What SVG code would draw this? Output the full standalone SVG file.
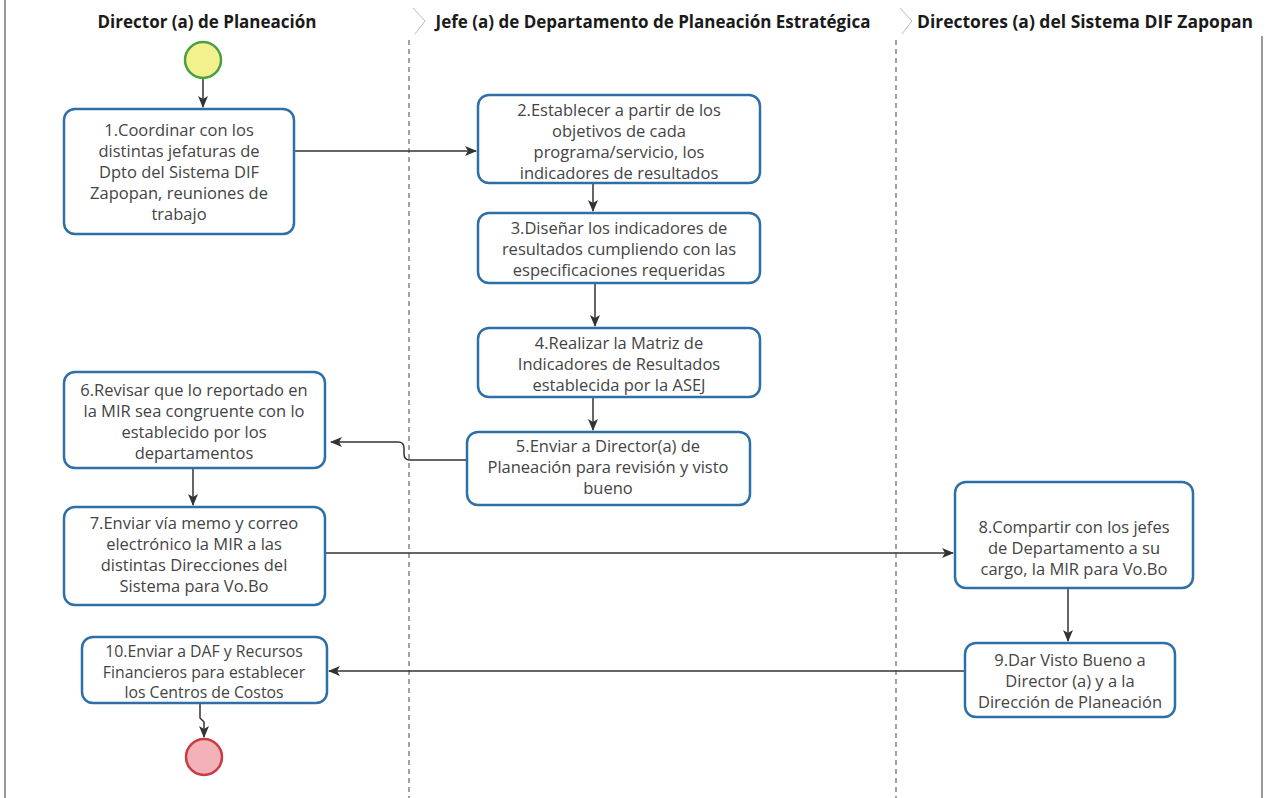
<svg xmlns="http://www.w3.org/2000/svg" width="1266" height="798" viewBox="0 0 1266 798">
<defs>
<style>
.lane{stroke:#555;stroke-width:1.2;fill:none}
.sep{stroke:#666;stroke-width:1.2;stroke-dasharray:5 4;fill:none}
.hdr{font-family:"Open Sans","DejaVu Sans",sans-serif;font-weight:bold;font-size:17px;fill:#1a1a1a}
.box{fill:#fff;stroke:#2f6fa8;stroke-width:2.5}
.t{font-family:"Open Sans","DejaVu Sans",sans-serif;font-size:16.5px;fill:#444;text-anchor:middle}
.ts{font-size:15.8px}
.c{stroke:#333;stroke-width:1.5;fill:none}
.chev{stroke:#bbb;stroke-width:1;fill:none}
</style>
<marker id="ah" viewBox="0 0 12 12" refX="11" refY="6" markerWidth="12" markerHeight="12" markerUnits="userSpaceOnUse" orient="auto">
<path d="M0,1 L12,6 L0,11 L3,6 Z" fill="#333"/>
</marker>
</defs>
<rect width="1266" height="798" fill="#fff"/>
<g id="lanes">
<line class="lane" x1="5" y1="0" x2="5" y2="798"/>
<line class="lane" x1="1262" y1="36" x2="1262" y2="798"/>
<line class="sep" x1="409" y1="40" x2="409" y2="798"/>
<line class="sep" x1="896" y1="40" x2="896" y2="798"/>
<polyline class="chev" points="413,8 425,21 415,34"/>
<polyline class="chev" points="900,8 912,21 902,34"/>
<text class="hdr" x="207" y="28" text-anchor="middle">Director (a) de Planeación</text>
<text class="hdr" x="653" y="28" text-anchor="middle">Jefe (a) de Departamento de Planeación Estratégica</text>
<text class="hdr" x="917" y="28" textLength="336" lengthAdjust="spacingAndGlyphs">Directores (a) del Sistema DIF Zapopan</text>
</g>
<g id="connectors">
<line class="c" x1="203" y1="78" x2="203" y2="107" marker-end="url(#ah)"/>
<line class="c" x1="294" y1="151" x2="476" y2="151" marker-end="url(#ah)"/>
<line class="c" x1="593" y1="183" x2="593" y2="211" marker-end="url(#ah)"/>
<line class="c" x1="595" y1="283" x2="595" y2="326" marker-end="url(#ah)"/>
<line class="c" x1="593" y1="397" x2="593" y2="430" marker-end="url(#ah)"/>
<path class="c" d="M467,460 L410,460 Q404,460 404,454 L404,448 Q404,442 398,442 L331,442" marker-end="url(#ah)"/>
<line class="c" x1="193" y1="468" x2="193" y2="505" marker-end="url(#ah)"/>
<line class="c" x1="325" y1="553" x2="953" y2="553" marker-end="url(#ah)"/>
<line class="c" x1="1068" y1="588" x2="1068" y2="641" marker-end="url(#ah)"/>
<line class="c" x1="965" y1="671" x2="329" y2="671" marker-end="url(#ah)"/>
<path class="c" d="M200,703 L200,718 L204,722 L204,737" marker-end="url(#ah)"/>
</g>
<g id="start"><circle cx="203" cy="60" r="18" fill="#f3f08e" stroke="#4aa040" stroke-width="2.5"/></g>
<g id="n1"><rect class="box" x="64" y="109" width="230" height="125" rx="11"/>
<text class="t"><tspan x="179" y="136">1.Coordinar con los</tspan><tspan x="179" y="157">distintas jefaturas de</tspan><tspan x="179" y="178">Dpto del Sistema DIF</tspan><tspan x="179" y="199">Zapopan, reuniones de</tspan><tspan x="179" y="220">trabajo</tspan></text></g>
<g id="n2"><rect class="box" x="478" y="95" width="282" height="88" rx="11"/>
<text class="t"><tspan x="619" y="116">2.Establecer a partir de los</tspan><tspan x="619" y="137">objetivos de cada</tspan><tspan x="619" y="158">programa/servicio, los</tspan><tspan x="619" y="179">indicadores de resultados</tspan></text></g>
<g id="n3"><rect class="box" x="478" y="213" width="282" height="70" rx="11"/>
<text class="t"><tspan x="619" y="234">3.Diseñar los indicadores de</tspan><tspan x="619" y="255">resultados cumpliendo con las</tspan><tspan x="619" y="276">especificaciones requeridas</tspan></text></g>
<g id="n4"><rect class="box" x="478" y="328" width="282" height="69" rx="11"/>
<text class="t"><tspan x="619" y="349">4.Realizar la Matriz de</tspan><tspan x="619" y="370">Indicadores de Resultados</tspan><tspan x="619" y="391">establecida por la ASEJ</tspan></text></g>
<g id="n5"><rect class="box" x="467" y="432" width="283" height="73" rx="11"/>
<text class="t"><tspan x="608" y="452">5.Enviar a Director(a) de</tspan><tspan x="608" y="473">Planeación para revisión y visto</tspan><tspan x="608" y="494">bueno</tspan></text></g>
<g id="n6"><rect class="box" x="64" y="372" width="261" height="96" rx="11"/>
<text class="t"><tspan x="194" y="396">6.Revisar que lo reportado en</tspan><tspan x="194" y="417">la MIR sea congruente con lo</tspan><tspan x="194" y="438">establecido por los</tspan><tspan x="194" y="459">departamentos</tspan></text></g>
<g id="n7"><rect class="box" x="64" y="507" width="261" height="98" rx="11"/>
<text class="t"><tspan x="194" y="529">7.Enviar vía memo y correo</tspan><tspan x="194" y="550">electrónico la MIR a las</tspan><tspan x="194" y="571">distintas Direcciones del</tspan><tspan x="194" y="592">Sistema para Vo.Bo</tspan></text></g>
<g id="n8"><rect class="box" x="955" y="482" width="238" height="106" rx="11"/>
<text class="t"><tspan x="1074" y="533">8.Compartir con los jefes</tspan><tspan x="1074" y="554">de Departamento a su</tspan><tspan x="1074" y="575">cargo, la MIR para Vo.Bo</tspan></text></g>
<g id="n9"><rect class="box" x="965" y="643" width="210" height="74" rx="11"/>
<text class="t"><tspan x="1070" y="666">9.Dar Visto Bueno a</tspan><tspan x="1070" y="687">Director (a) y a la</tspan><tspan x="1070" y="708">Dirección de Planeación</tspan></text></g>
<g id="n10"><rect class="box" x="82" y="637" width="245" height="66" rx="11"/>
<text class="t ts"><tspan x="204" y="657">10.Enviar a DAF y Recursos</tspan><tspan x="204" y="677.5">Financieros para establecer</tspan><tspan x="204" y="698">los Centros de Costos</tspan></text></g>
<g id="end"><circle cx="204" cy="757" r="18" fill="#f3b1b8" stroke="#c83a44" stroke-width="2.5"/></g>
</svg>
